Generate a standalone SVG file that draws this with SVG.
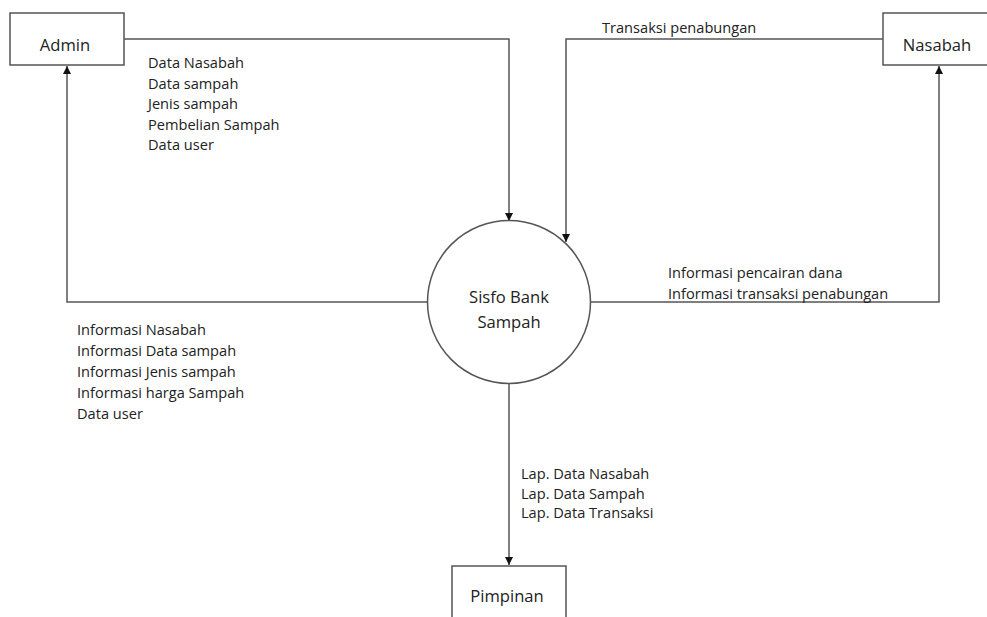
<svg xmlns="http://www.w3.org/2000/svg" width="987" height="617" viewBox="0 0 987 617">
<style>
.box{fill:#fff;stroke:#555;stroke-width:1.5}
.ln{fill:none;stroke:#555;stroke-width:1.5}
text{font-family:"Open Sans","Liberation Sans",sans-serif;font-size:16.6px;fill:#222}
.lbl{font-size:14.6px}
</style>
<defs>
<marker id="ah" viewBox="0 0 10 10" refX="10" refY="5" markerWidth="8" markerHeight="8" markerUnits="userSpaceOnUse" orient="auto">
<path d="M0,0 L10,5 L0,10 z" fill="#111"/>
</marker>
</defs>
<rect width="987" height="617" fill="#fff"/>
<g id="connectors">
<polyline class="ln" points="124,39 509,39 509,221" marker-end="url(#ah)"/>
<polyline class="ln" points="883,39 566,39 566,242" marker-end="url(#ah)"/>
<polyline class="ln" points="427,302 67,302 67,66" marker-end="url(#ah)"/>
<polyline class="ln" points="591,302 939,302 939,66" marker-end="url(#ah)"/>
<polyline class="ln" points="509,384 509,565" marker-end="url(#ah)"/>
</g>
<g id="labels">
<text class="lbl" x="148" y="68">Data Nasabah</text>
<text class="lbl" x="148" y="88.5">Data sampah</text>
<text class="lbl" x="148" y="109">Jenis sampah</text>
<text class="lbl" x="148" y="129.5">Pembelian Sampah</text>
<text class="lbl" x="148" y="150">Data user</text>
<text class="lbl" x="602" y="33">Transaksi penabungan</text>
<text class="lbl" x="668" y="278">Informasi pencairan dana</text>
<text class="lbl" x="668" y="299">Informasi transaksi penabungan</text>
<text class="lbl" x="77" y="335">Informasi Nasabah</text>
<text class="lbl" x="77" y="356">Informasi Data sampah</text>
<text class="lbl" x="77" y="377">Informasi Jenis sampah</text>
<text class="lbl" x="77" y="398">Informasi harga Sampah</text>
<text class="lbl" x="77" y="419">Data user</text>
<text class="lbl" x="521" y="479">Lap. Data Nasabah</text>
<text class="lbl" x="521" y="498.5">Lap. Data Sampah</text>
<text class="lbl" x="521" y="518">Lap. Data Transaksi</text>
</g>
<g id="admin">
<rect class="box" x="10" y="13" width="114" height="52"/>
<text x="65" y="51" text-anchor="middle">Admin</text>
</g>
<g id="nasabah">
<rect class="box" x="883" y="13" width="110" height="52"/>
<text x="937" y="51" text-anchor="middle">Nasabah</text>
</g>
<g id="sisfo">
<circle class="box" cx="509" cy="302" r="81.5"/>
<text x="509" y="303" text-anchor="middle">Sisfo Bank</text>
<text x="509" y="328" text-anchor="middle">Sampah</text>
</g>
<g id="pimpinan">
<rect class="box" x="452" y="566" width="114" height="60"/>
<text x="507" y="602" text-anchor="middle">Pimpinan</text>
</g>
</svg>
